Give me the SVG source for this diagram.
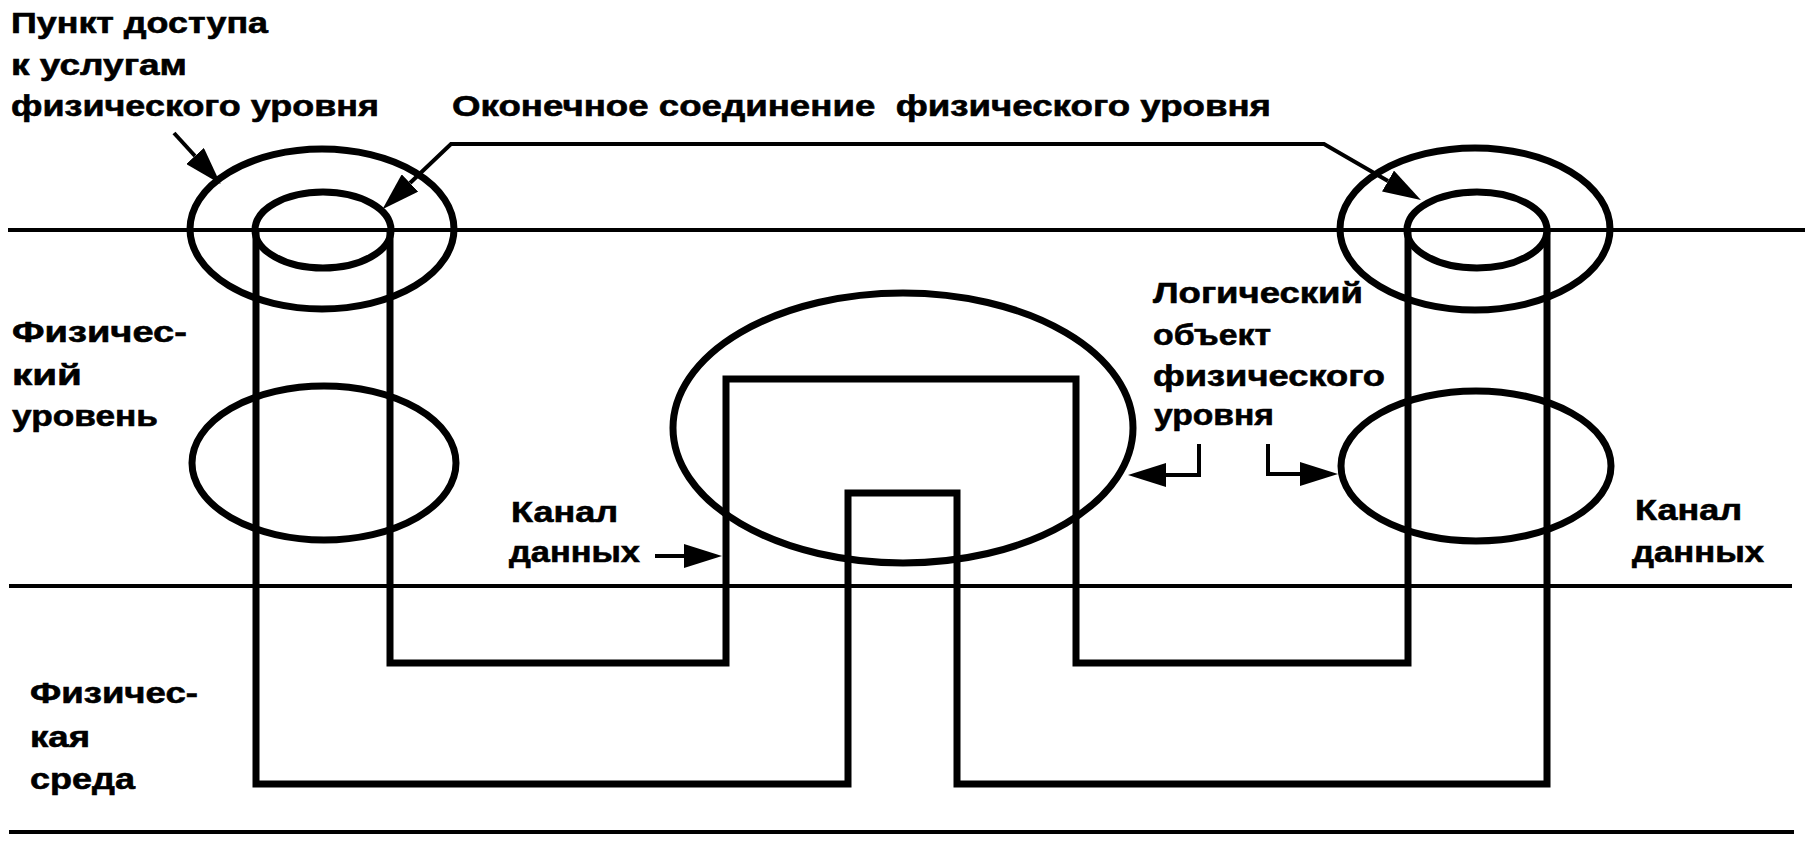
<svg xmlns="http://www.w3.org/2000/svg" width="1810" height="847" viewBox="0 0 1810 847">
<style>
.bg{fill:#ffffff}
.ref{stroke:#000;stroke-width:4;fill:none}
.heavy{stroke:#000;stroke-width:7;fill:none;stroke-linejoin:miter}
.con{stroke:#000;stroke-width:4;fill:none}
.lbl{font-family:"Liberation Sans",Arial,sans-serif;font-weight:bold;font-size:30px;fill:#000;stroke:#000;stroke-width:0.6}
</style>
<defs>
<marker id="ah" markerUnits="userSpaceOnUse" viewBox="0 0 38 24" markerWidth="38" markerHeight="24" refX="0" refY="12" orient="auto-start-reverse">
<path d="M0,0 L38,12 L0,24 z" fill="#000"/>
</marker>
</defs>
<rect class="bg" x="0" y="0" width="1810" height="847"/>
<g id="layer-lines">
<line class="ref" x1="8" y1="230" x2="1805" y2="230"/>
<line class="ref" x1="9" y1="586" x2="1792" y2="586"/>
<line class="ref" x1="9" y1="832" x2="1794" y2="832"/>
</g>
<g id="channel-outer">
<path class="heavy" d="M256,230 V784 H848 V493 H957 V784 H1547 V230"/>
</g>
<g id="channel-inner">
<path class="heavy" d="M390,230 V663 H726 V379 H1076 V663 H1408 V230"/>
</g>
<g id="access-point-left">
<ellipse class="heavy" cx="322" cy="229" rx="132" ry="80"/>
<ellipse class="heavy" cx="323" cy="230" rx="68" ry="38"/>
</g>
<g id="access-point-right">
<ellipse class="heavy" cx="1475" cy="229" rx="135" ry="81"/>
<ellipse class="heavy" cx="1477" cy="230" rx="70" ry="38"/>
</g>
<g id="entity-left">
<ellipse class="heavy" cx="324" cy="463" rx="132" ry="77"/>
</g>
<g id="entity-center">
<ellipse class="heavy" cx="903" cy="428" rx="230" ry="135"/>
</g>
<g id="entity-right">
<ellipse class="heavy" cx="1476" cy="466" rx="135" ry="75"/>
</g>
<g id="connectors">
<path class="con" d="M174,133 L195,156" marker-end="url(#ah)"/>
<path class="con" d="M410,183 L451,144 H1324 L1388,181" marker-start="url(#ah)" marker-end="url(#ah)"/>
<path class="con" d="M655,556 H684" marker-end="url(#ah)"/>
<path class="con" d="M1199,444 V475 H1166" marker-end="url(#ah)"/>
<path class="con" d="M1268,444 V474 H1300" marker-end="url(#ah)"/>
</g>
<g id="labels">
<text class="lbl" x="11" y="33" textLength="257" lengthAdjust="spacingAndGlyphs">Пункт доступа</text>
<text class="lbl" x="11" y="75" textLength="176" lengthAdjust="spacingAndGlyphs">к услугам</text>
<text class="lbl" x="11" y="116" textLength="368" lengthAdjust="spacingAndGlyphs">физического уровня</text>
<text class="lbl" x="452" y="116" textLength="819" lengthAdjust="spacingAndGlyphs" xml:space="preserve">Оконечное соединение  физического уровня</text>
<text class="lbl" x="12" y="342" textLength="175" lengthAdjust="spacingAndGlyphs">Физичес-</text>
<text class="lbl" x="12" y="385" textLength="70" lengthAdjust="spacingAndGlyphs">кий</text>
<text class="lbl" x="12" y="426" textLength="146" lengthAdjust="spacingAndGlyphs">уровень</text>
<text class="lbl" x="30" y="703" textLength="168" lengthAdjust="spacingAndGlyphs">Физичес-</text>
<text class="lbl" x="30" y="747" textLength="60" lengthAdjust="spacingAndGlyphs">кая</text>
<text class="lbl" x="30" y="789" textLength="105" lengthAdjust="spacingAndGlyphs">среда</text>
<text class="lbl" x="511" y="522" textLength="107" lengthAdjust="spacingAndGlyphs">Канал</text>
<text class="lbl" x="509" y="562" textLength="131" lengthAdjust="spacingAndGlyphs">данных</text>
<text class="lbl" x="1153" y="303" textLength="210" lengthAdjust="spacingAndGlyphs">Логический</text>
<text class="lbl" x="1153" y="345" textLength="118" lengthAdjust="spacingAndGlyphs">объект</text>
<text class="lbl" x="1153" y="386" textLength="232" lengthAdjust="spacingAndGlyphs">физического</text>
<text class="lbl" x="1154" y="425" textLength="120" lengthAdjust="spacingAndGlyphs">уровня</text>
<text class="lbl" x="1635" y="520" textLength="107" lengthAdjust="spacingAndGlyphs">Канал</text>
<text class="lbl" x="1632" y="562" textLength="132" lengthAdjust="spacingAndGlyphs">данных</text>
</g>
</svg>
